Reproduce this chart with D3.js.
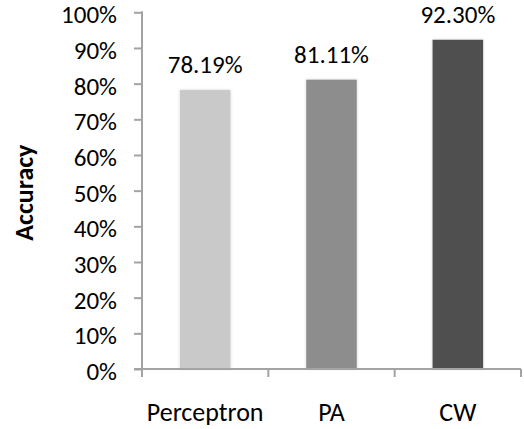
<!DOCTYPE html>
<html>
<head>
<meta charset="utf-8">
<script src="https://cdn.jsdelivr.net/npm/d3@7"></script>
<style>
  html, body { margin: 0; padding: 0; background: #fff; }
  svg { display: block; }
  text { font-family: Carlito, Calibri, Lato, sans-serif; fill: #000; }
</style>
</head>
<body>
<script>
const categories = ["Perceptron", "PA", "CW"];
const accuracy = [78.19, 81.11, 92.30];
const valueLabels = ["78.19%", "81.11%", "92.30%"];
const yTicks = [0, 10, 20, 30, 40, 50, 60, 70, 80, 90, 100];

(function () {
const W = 524, H = 429;
const mLeft = 142, mRight = 521, mTop = 12.3, mBottom = 369;
const barColors = ["#c9c9c9", "#8d8d8d", "#505050"];
const axisColor = "#a3a3a3";

const svg = d3.select("body").append("svg").attr("width", W).attr("height", H);

const defs = svg.append("defs");
const f = defs.append("filter").attr("id", "sh").attr("x", "-20%").attr("y", "-5%").attr("width", "140%").attr("height", "110%");
f.append("feDropShadow").attr("dx", 0).attr("dy", 0).attr("stdDeviation", 1.6)
  .attr("flood-color", "#000").attr("flood-opacity", 0.18);

const x = d3.scaleBand().domain(categories).range([mLeft, mRight]).paddingInner(0.6).paddingOuter(0.3);
const xAxisScale = d3.scaleBand().domain(categories).range([mLeft, mRight]).padding(0);
const y = d3.scaleLinear().domain([0, 100]).range([mBottom, mTop]);
const color = d3.scaleOrdinal().domain(categories).range(barColors);

// bars
svg.append("g").selectAll("rect").data(categories).join("rect")
  .attr("x", d => x(d))
  .attr("width", x.bandwidth())
  .attr("y", (d, i) => y(accuracy[i]))
  .attr("height", (d, i) => y(0) - y(accuracy[i]))
  .attr("fill", d => color(d))
  .attr("filter", "url(#sh)");

// value labels
svg.append("g").selectAll("text").data(categories).join("text")
  .attr("x", d => x(d) + x.bandwidth() / 2)
  .attr("y", (d, i) => y(accuracy[i]) - 17)
  .attr("text-anchor", "middle")
  .style("font-size", "25px")
  .text((d, i) => valueLabels[i]);

// y axis
const yAxis = d3.axisLeft(y).tickValues(yTicks).tickFormat(d => d + "%").tickSize(8).tickPadding(17).tickSizeOuter(0);
const gy = svg.append("g").attr("transform", `translate(${mLeft},0)`).call(yAxis);
gy.select(".domain").remove();
gy.selectAll(".tick line").attr("stroke", axisColor).attr("stroke-width", 2);
gy.selectAll(".tick text").attr("dy", "0.42em").style("font-size", "25px").attr("fill", "#000");
svg.append("line").attr("x1", mLeft).attr("x2", mLeft).attr("y1", y(100) - 1).attr("y2", mBottom + 8)
  .attr("stroke", axisColor).attr("stroke-width", 2);

// x axis
const gx = svg.append("g").attr("transform", `translate(0,${mBottom})`);
gx.append("line").attr("x1", mLeft - 8).attr("x2", mRight).attr("y1", 0).attr("y2", 0)
  .attr("stroke", axisColor).attr("stroke-width", 2);
const bounds = categories.map(c => xAxisScale(c)).concat([xAxisScale(categories[categories.length - 1]) + xAxisScale.bandwidth()]);
gx.selectAll("line.tk").data(bounds).join("line").attr("class", "tk")
  .attr("x1", d => d).attr("x2", d => d).attr("y1", 0).attr("y2", 8)
  .attr("stroke", axisColor).attr("stroke-width", 2);
gx.selectAll("text").data(categories).join("text")
  .attr("x", d => xAxisScale(d) + xAxisScale.bandwidth() / 2)
  .attr("y", 52)
  .attr("text-anchor", "middle")
  .style("font-size", "26px")
  .text(d => d);

// y title
svg.append("text")
  .attr("transform", `translate(33,${(mTop + mBottom) / 2 + 2}) rotate(-90)`)
  .attr("text-anchor", "middle")
  .style("font-size", "26px").style("font-weight", "bold")
  .text("Accuracy");
})();
</script>
</body>
</html>
